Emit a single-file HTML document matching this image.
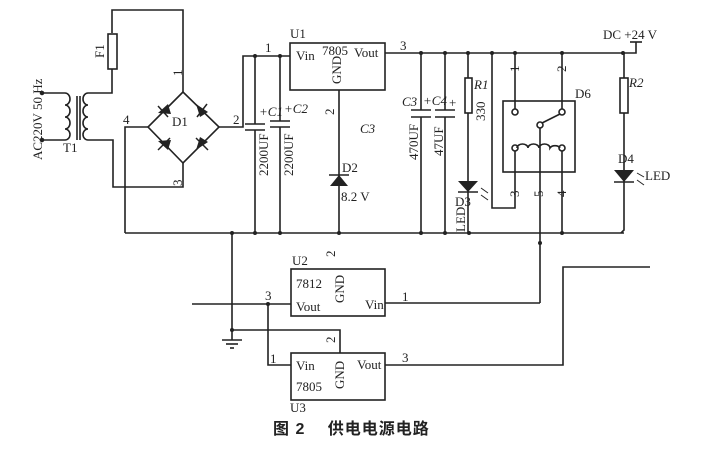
<!DOCTYPE html>
<html><head><meta charset="utf-8"><style>
body{margin:0;background:#fff;}
svg{display:block;}
text{font-family:"Liberation Serif",serif;font-size:13px;fill:#222;}
.cn{font-family:"Liberation Sans","Noto Sans CJK SC",sans-serif;font-size:16px;font-weight:bold;}
</style></head><body>
<svg width="705" height="456" viewBox="0 0 705 456" xmlns="http://www.w3.org/2000/svg">
<g stroke="#222" stroke-width="1.6" fill="none">
<polyline points="112,33 112,10 183,10 183,92"/>
<rect x="108" y="34" width="9" height="35"/>
<polyline points="112,69 112,93 88,93"/>
<circle cx="42" cy="93" r="1.5" fill="#222"/><circle cx="42" cy="140" r="1.5" fill="#222"/>
<polyline points="42,93 65,93"/><polyline points="42,140 65,140"/>
<path d="M65,93 a5,6 0 0 1 0,12 a5,6 0 0 1 0,12 a5,6 0 0 1 0,12 a5,5.5 0 0 1 0,11"/>
<path d="M88,93 a-5,6 0 0 0 0,12 a5,6 0 0 0 0,12 a5,6 0 0 0 0,12 a5,5.5 0 0 0 0,11"/>
<line x1="77" y1="96" x2="77" y2="140"/><line x1="80" y1="96" x2="80" y2="140"/>
<polyline points="88,140 113,140 113,187 183,187 183,163"/>
<polygon points="183,92 148,127 183,163 219,127"/>
<polyline points="148,127 125,127 125,233"/>
<polyline points="219,127 243,127 243,56 290,56"/>
<line x1="255" y1="56" x2="255" y2="124"/><line x1="255" y1="130" x2="255" y2="233"/>
<line x1="245" y1="124" x2="265" y2="124"/><line x1="245" y1="130" x2="265" y2="130"/>
<line x1="280" y1="56" x2="280" y2="121"/><line x1="280" y1="127" x2="280" y2="233"/>
<line x1="270" y1="121" x2="290" y2="121"/><line x1="270" y1="127" x2="290" y2="127"/>
<rect x="290" y="43" width="95" height="47"/>
<line x1="339" y1="90" x2="339" y2="233"/>
<line x1="125" y1="233" x2="624" y2="233"/>
<polyline points="385,53 636,53 636,42"/>
<line x1="630" y1="42" x2="642" y2="42"/>
<line x1="421" y1="53" x2="421" y2="110"/><line x1="421" y1="117" x2="421" y2="233"/>
<line x1="411" y1="110" x2="431" y2="110"/><line x1="411" y1="117" x2="431" y2="117"/>
<line x1="445" y1="53" x2="445" y2="110"/><line x1="445" y1="117" x2="445" y2="233"/>
<line x1="435" y1="110" x2="455" y2="110"/><line x1="435" y1="117" x2="455" y2="117"/>
<line x1="468" y1="53" x2="468" y2="78"/><rect x="465" y="78" width="7" height="35"/>
<line x1="468" y1="113" x2="468" y2="233"/>
<line x1="458" y1="192" x2="478" y2="192"/>
<polyline points="492,53 492,208 515,208 515,150"/>
<rect x="503" y="101" width="72" height="71"/>
<line x1="515" y1="53" x2="515" y2="109"/><circle cx="515" cy="112" r="3" fill="#fff"/>
<line x1="562" y1="53" x2="562" y2="109"/><circle cx="562" cy="112" r="3" fill="#fff"/>
<circle cx="540" cy="125" r="3" fill="#fff"/><line x1="542" y1="123" x2="560" y2="114"/>
<line x1="540" y1="128" x2="540" y2="303"/>
<circle cx="515" cy="148" r="3" fill="#fff"/><circle cx="562" cy="148" r="3" fill="#fff"/>
<path d="M517,148 a5.5,4 0 0 1 11,0 a5.5,4 0 0 1 11,0 a5.5,4 0 0 1 11,0 a5.5,4 0 0 1 10,0"/>
<line x1="562" y1="151" x2="562" y2="233"/>
<line x1="624" y1="53" x2="624" y2="78"/><rect x="620" y="78" width="8" height="35"/>
<polyline points="624,113 624,230 621,233"/>
<line x1="614" y1="182" x2="634" y2="182"/>
<line x1="329" y1="175" x2="349" y2="175"/>
<line x1="232" y1="233" x2="232" y2="340"/>
<line x1="222" y1="340" x2="242" y2="340"/><line x1="226" y1="344" x2="238" y2="344"/><line x1="230" y1="348" x2="234" y2="348"/>
<rect x="291" y="269" width="94" height="47"/>
<line x1="192" y1="304" x2="291" y2="304"/>
<polyline points="385,303 540,303"/>
<polyline points="232,330 340,330 340,353"/>
<polyline points="268,304 268,365 291,365"/>
<rect x="291" y="353" width="94" height="47"/>
<polyline points="385,365 563,365 563,267 650,267"/>
</g>
<g fill="#222">
<polygon points="158,113 168,104 171,114"/><line x1="158" y1="106" x2="168" y2="117" stroke="#222" stroke-width="1.5"/>
<polygon points="196,104 208,112 200,117"/><line x1="197" y1="117" x2="207" y2="104" stroke="#222" stroke-width="1.5"/>
<polygon points="158,141 168,150 171,140"/><line x1="158" y1="150" x2="170" y2="138" stroke="#222" stroke-width="1.5"/>
<polygon points="196,150 208,142 200,137"/><line x1="196" y1="138" x2="208" y2="150" stroke="#222" stroke-width="1.5"/>
<polygon points="330,186 348,186 339,175"/>
<polygon points="458,181 478,181 468,192"/>
<polygon points="614,170 634,170 624,182"/>
<g stroke="#222" stroke-width="1"><line x1="481" y1="188" x2="488" y2="193"/><line x1="481" y1="195" x2="488" y2="200"/>
<line x1="637" y1="173" x2="644" y2="177"/><line x1="637" y1="180" x2="644" y2="185"/></g>
<circle cx="255" cy="56" r="2"/><circle cx="280" cy="56" r="2"/>
<circle cx="232" cy="233" r="2"/><circle cx="255" cy="233" r="2"/><circle cx="280" cy="233" r="2"/><circle cx="339" cy="233" r="2"/>
<circle cx="421" cy="233" r="2"/><circle cx="445" cy="233" r="2"/><circle cx="469" cy="233" r="2"/><circle cx="562" cy="233" r="2"/>
<circle cx="421" cy="53" r="2"/><circle cx="445" cy="53" r="2"/><circle cx="468" cy="53" r="2"/><circle cx="492" cy="53" r="2"/>
<circle cx="515" cy="53" r="2"/><circle cx="562" cy="53" r="2"/><circle cx="623" cy="53" r="2"/>
<circle cx="540" cy="243" r="2"/><circle cx="268" cy="304" r="2"/><circle cx="232" cy="330" r="2"/>
</g>
<text x="0" y="0" transform="translate(42,160) rotate(-90)" font-size="14">AC220V 50 Hz</text>
<text x="63" y="152">T1</text>
<text x="0" y="0" transform="translate(104,58) rotate(-90)">F1</text>
<text x="0" y="0" transform="translate(182,76) rotate(-90)">1</text>
<text x="0" y="0" transform="translate(182,186) rotate(-90)">3</text>
<text x="123" y="124">4</text>
<text x="172" y="126">D1</text>
<text x="233" y="124">2</text>
<text x="265" y="52">1</text>
<text x="259" y="116" font-style="italic">+C1</text>
<text x="284" y="113" font-style="italic">+C2</text>
<text x="0" y="0" transform="translate(268,176) rotate(-90)">2200UF</text>
<text x="0" y="0" transform="translate(293,176) rotate(-90)">2200UF</text>
<text x="290" y="38">U1</text>
<text x="296" y="60">Vin</text><text x="322" y="55">7805</text><text x="354" y="57">Vout</text>
<text x="0" y="0" transform="translate(341,84) rotate(-90)" font-size="12">GND</text>
<text x="0" y="0" transform="translate(334,115) rotate(-90)">2</text>
<text x="360" y="133" font-style="italic">C3</text>
<text x="342" y="172">D2</text>
<text x="341" y="201">8.2 V</text>
<text x="400" y="50">3</text>
<text x="603" y="39">DC +24 V</text>
<text x="402" y="106" font-style="italic">C3</text><text x="423" y="105" font-style="italic">+C4</text>
<text x="449" y="107">+</text>
<text x="0" y="0" transform="translate(418,160) rotate(-90)">470UF</text>
<text x="0" y="0" transform="translate(443,156) rotate(-90)">47UF</text>
<text x="474" y="89" font-style="italic">R1</text>
<text x="0" y="0" transform="translate(485,121) rotate(-90)">330</text>
<text x="455" y="206">D3</text>
<text x="0" y="0" transform="translate(465,232) rotate(-90)" font-size="12">LED</text>
<text x="0" y="0" transform="translate(519,72) rotate(-90)">1</text>
<text x="0" y="0" transform="translate(566,72) rotate(-90)">2</text>
<text x="575" y="98">D6</text>
<text x="0" y="0" transform="translate(519,197) rotate(-90)">3</text>
<text x="0" y="0" transform="translate(543,197) rotate(-90)">5</text>
<text x="0" y="0" transform="translate(566,197) rotate(-90)">4</text>
<text x="629" y="87" font-style="italic">R2</text>
<text x="618" y="163">D4</text>
<text x="645" y="180">LED</text>
<text x="0" y="0" transform="translate(335,257) rotate(-90)">2</text>
<text x="292" y="265">U2</text>
<text x="296" y="288">7812</text><text x="296" y="311">Vout</text><text x="365" y="309">Vin</text>
<text x="0" y="0" transform="translate(344,303) rotate(-90)" font-size="12">GND</text>
<text x="265" y="300">3</text><text x="402" y="301">1</text>
<text x="0" y="0" transform="translate(335,343) rotate(-90)">2</text>
<text x="270" y="363">1</text><text x="402" y="362">3</text>
<text x="296" y="370">Vin</text><text x="357" y="369">Vout</text><text x="296" y="391">7805</text>
<text x="0" y="0" transform="translate(344,389) rotate(-90)" font-size="12">GND</text>
<text x="290" y="412">U3</text>
<text class="cn" x="273" y="434" letter-spacing="1">图 2　 供电电源电路</text>
</svg>
</body></html>
